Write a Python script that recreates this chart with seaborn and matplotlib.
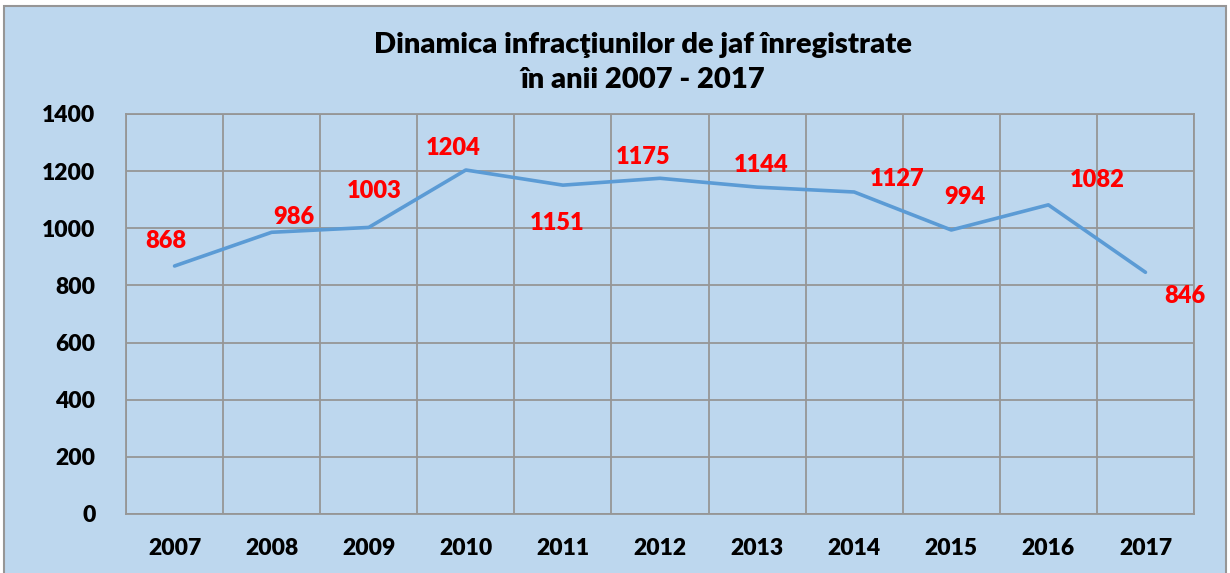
import numpy as np
import pandas as pd
import matplotlib
matplotlib.use("Agg")
import matplotlib.pyplot as plt
from matplotlib.patches import Rectangle
import seaborn as sns

years = ["2007", "2008", "2009", "2010", "2011", "2012", "2013", "2014", "2015", "2016", "2017"]
cases = [868, 986, 1003, 1204, 1151, 1175, 1144, 1127, 994, 1082, 846]
# label offsets in points, as placed in the original chart
label_dx = [-6, 16, 4, -9, -4, -12, 3, 31, 10, 35, 28]
label_dy = [18, 11, 26, 16, -27, 15, 16, 9, 24, 18, -17]

sns.set_style("white")
plt.rcParams["font.family"] = ["Lato", "DejaVu Sans"]
plt.rcParams["text.color"] = "black"
plt.rcParams["xtick.color"] = "black"
plt.rcParams["ytick.color"] = "black"

bg = "#BDD7EE"
grid_c = "#969696"

fig = plt.figure(figsize=(12.3, 5.73), dpi=100)
fig.patch.set_facecolor("white")
fig.patches.append(Rectangle((4 / 1230, -0.01), 1222 / 1230, 1 - 6 / 573 + 0.01,
                             transform=fig.transFigure, facecolor=bg,
                             edgecolor=grid_c, linewidth=1.5, zorder=-10))

ax = fig.add_axes([126 / 1230, 1 - 514 / 573, (1194 - 126) / 1230, 400 / 573])
ax.set_facecolor(bg)

df = pd.DataFrame({"year": years, "cases": cases})
sns.lineplot(data=df, x="year", y="cases", ax=ax, color="#5B9BD5", linewidth=2.6,
             zorder=3)

for i, (v, dx, dy) in enumerate(zip(cases, label_dx, label_dy)):
    ax.annotate(str(v), (i, v), xytext=(dx, dy), textcoords="offset points",
                ha="center", va="center", color="red", fontsize=17,
                fontweight="heavy")

ax.set_xlim(-0.5, len(years) - 0.5)
ax.set_ylim(0, 1400)
ax.set_yticks(np.arange(0, 1401, 200))
ax.set_xticks(np.arange(-0.5, len(years), 1), minor=True)
ax.grid(False)
ax.grid(True, which="minor", axis="x", color=grid_c, linewidth=1.3)
ax.grid(True, which="major", axis="y", color=grid_c, linewidth=1.3)
ax.set_axisbelow(True)
for s in ax.spines.values():
    s.set_color(grid_c)
    s.set_linewidth(1.3)

ax.tick_params(axis="both", which="both", length=0)
ax.tick_params(axis="y", pad=22, labelsize=16.5)
ax.tick_params(axis="x", pad=17, labelsize=16.5)
for lab in ax.get_xticklabels() + ax.get_yticklabels():
    lab.set_fontweight("heavy")
ax.set_xlabel("")
ax.set_ylabel("")

fig.text(0.523, 1 - 45 / 573, "Dinamica infracţiunilor de jaf înregistrate",
         ha="center", va="center", fontsize=21, fontweight="heavy", color="black")
fig.text(0.523, 1 - 80 / 573, "în anii 2007 - 2017",
         ha="center", va="center", fontsize=21, fontweight="heavy", color="black")

fig.savefig("out.png", dpi=100, facecolor=fig.get_facecolor())
